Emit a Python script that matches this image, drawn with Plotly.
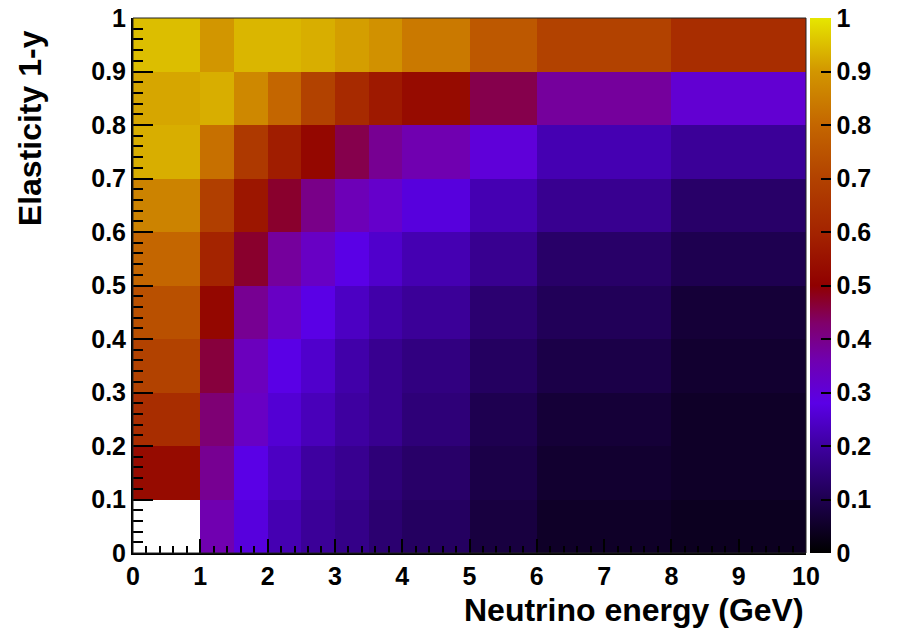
import plotly.graph_objects as go

# Bin edges (variable-width energy bins, uniform elasticity bins)
energy_edges = [0, 1, 1.5, 2, 2.5, 3, 3.5, 4, 5, 6, 8, 10]
elasticity_edges = [0, 0.1, 0.2, 0.3, 0.4, 0.5, 0.6, 0.7, 0.8, 0.9, 1.0]

# Cell contents, one row per elasticity bin (bottom row first)
row_00_01 = [None, 0.36, 0.27, 0.22, 0.19, 0.17, 0.14, 0.12, 0.08, 0.05, 0.04]
row_01_02 = [0.53, 0.39, 0.28, 0.24, 0.20, 0.18, 0.15, 0.13, 0.09, 0.06, 0.05]
row_02_03 = [0.63, 0.42, 0.33, 0.26, 0.23, 0.20, 0.18, 0.15, 0.10, 0.07, 0.05]
row_03_04 = [0.70, 0.46, 0.34, 0.28, 0.25, 0.21, 0.18, 0.16, 0.12, 0.09, 0.06]
row_04_05 = [0.74, 0.52, 0.39, 0.33, 0.28, 0.24, 0.21, 0.19, 0.14, 0.11, 0.07]
row_05_06 = [0.80, 0.60, 0.47, 0.38, 0.33, 0.28, 0.25, 0.22, 0.18, 0.13, 0.10]
row_06_07 = [0.86, 0.69, 0.56, 0.47, 0.40, 0.35, 0.32, 0.27, 0.22, 0.18, 0.13]
row_07_08 = [0.93, 0.82, 0.67, 0.58, 0.52, 0.45, 0.39, 0.36, 0.30, 0.22, 0.19]
row_08_09 = [0.92, 0.93, 0.87, 0.80, 0.70, 0.62, 0.57, 0.53, 0.45, 0.38, 0.31]
row_09_10 = [0.95, 0.90, 0.94, 0.94, 0.93, 0.91, 0.89, 0.84, 0.76, 0.70, 0.63]

z_values = [row_00_01, row_01_02, row_02_03, row_03_04, row_04_05,
            row_05_06, row_06_07, row_07_08, row_08_09, row_09_10]

x_title = "Neutrino energy (GeV)"
y_title = "Elasticity 1-y"

# Black-body style palette: black -> violet -> dark red -> orange -> yellow
palette = [
    [0.00, "#000000"],
    [0.10, "#1e0050"],
    [0.20, "#3e00a0"],
    [0.28, "#5a00e6"],
    [0.36, "#7000b0"],
    [0.43, "#80006a"],
    [0.50, "#900000"],
    [0.60, "#a42400"],
    [0.70, "#b24200"],
    [0.80, "#c46600"],
    [0.90, "#d29600"],
    [1.00, "#e6e600"],
]

FONT = "Liberation Sans"
tick_font = dict(family=FONT, size=25, color="black", weight="bold")
title_font = dict(family=FONT, size=32, color="black", weight="bold")

fig = go.Figure(
    go.Heatmap(
        x=energy_edges,
        y=elasticity_edges,
        z=z_values,
        zmin=0,
        zmax=1,
        colorscale=palette,
        hoverongaps=False,
        colorbar=dict(
            x=1.006,
            xanchor="left",
            xpad=0,
            y=0.5,
            yanchor="middle",
            len=1,
            lenmode="fraction",
            ypad=0,
            thickness=21,
            outlinewidth=0,
            tickmode="linear",
            tick0=0,
            dtick=0.1,
            ticks="inside",
            ticklen=10,
            tickwidth=2,
            tickcolor="black",
            tickfont=tick_font,
        ),
    )
)

axis_common = dict(
    showgrid=False,
    zeroline=False,
    showline=True,
    linecolor="black",
    linewidth=2,
    ticks="inside",
    tickcolor="black",
    tickwidth=2,
    tickfont=tick_font,
    automargin=False,
)

fig.update_xaxes(
    range=[0, 10],
    tickmode="linear",
    tick0=0,
    dtick=1,
    ticklen=14,
    minor=dict(ticks="inside", dtick=0.2, ticklen=7, tickcolor="black", tickwidth=2),
    **axis_common,
)
fig.update_yaxes(
    range=[0, 1],
    tickmode="linear",
    tick0=0,
    dtick=0.1,
    ticklen=20,
    minor=dict(ticks="inside", dtick=0.02, ticklen=10, tickcolor="black", tickwidth=2),
    **axis_common,
)

# Thin frame around the plotting area
fig.add_shape(
    type="rect", xref="x domain", yref="y domain",
    x0=0, x1=1, y0=0, y1=1,
    line=dict(color="#222222", width=1),
    layer="above",
)

fig.add_annotation(
    text=x_title, xref="paper", yref="paper",
    x=1.0, y=-0.107, xanchor="right", yanchor="middle",
    showarrow=False, font=title_font,
)
fig.add_annotation(
    text=y_title, xref="paper", yref="paper",
    x=-0.153, y=0.981, xanchor="center", yanchor="top",
    textangle=-90, showarrow=False, font=title_font,
)

fig.update_layout(
    width=904,
    height=635,
    margin=dict(l=133, r=98, t=18, b=82, autoexpand=False),
    paper_bgcolor="white",
    plot_bgcolor="white",
    showlegend=False,
)

fig.write_html("out.html")
